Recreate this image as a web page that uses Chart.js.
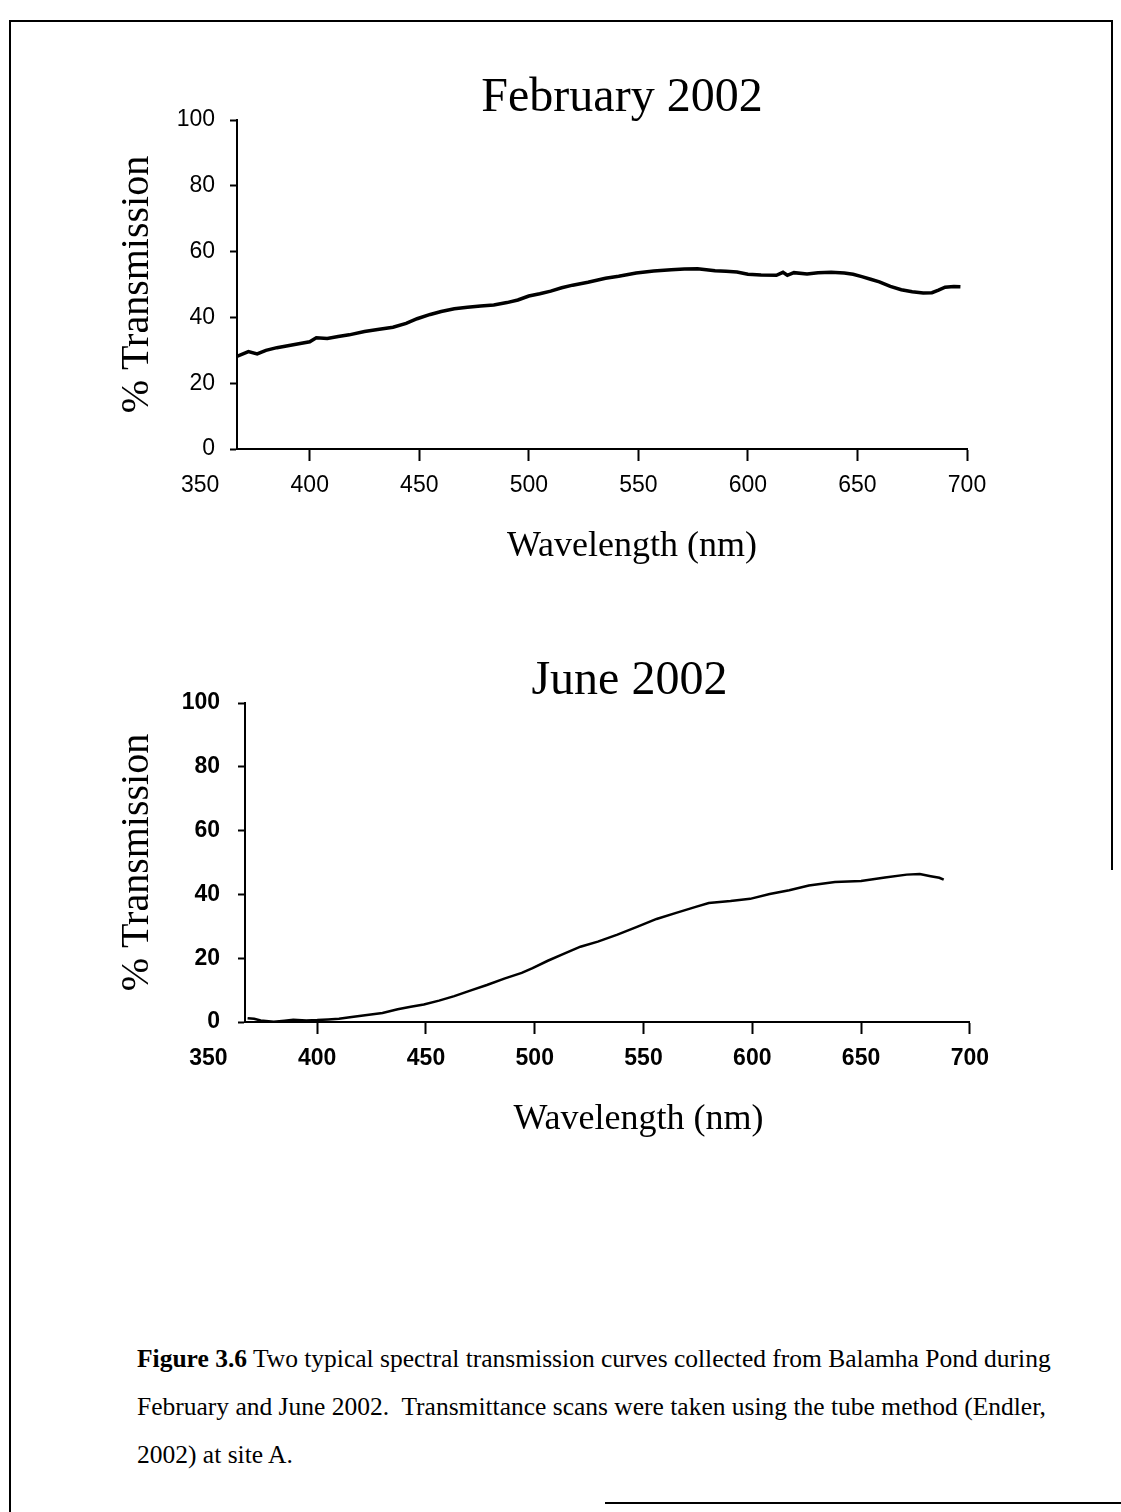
<!DOCTYPE html>
<html>
<head>
<meta charset="utf-8">
<script src="https://cdn.jsdelivr.net/npm/chart.js@4.4.1/dist/chart.umd.min.js"></script>
<style>
  html, body { margin: 0; padding: 0; background: #fff; }
  body { width: 1121px; height: 1512px; position: relative; overflow: hidden; }
  .rule { position: absolute; background: #000; }
  canvas { position: absolute; }
  #caption {
    position: absolute; left: 137px; top: 1335px; width: 980px;
    font-family: "Liberation Serif", "Times New Roman", serif; font-size: 25.5px;
    line-height: 48px; color: #000; white-space: pre;
  }
</style>
</head>
<body>
<!-- page frame as it shows on the scan -->
<div class="rule" style="left:9px; top:20px; width:2px; height:1492px;"></div>
<div class="rule" style="left:9px; top:20px; width:1104px; height:2px;"></div>
<div class="rule" style="left:1111px; top:20px; width:2px; height:850px;"></div>
<div class="rule" style="left:605px; top:1502px; width:516px; height:2px;"></div>

<canvas id="febChart" width="900" height="520" style="left:100px; top:60px;"></canvas>
<canvas id="junChart" width="900" height="520" style="left:100px; top:640px;"></canvas>

<div id="caption"><b>Figure 3.6</b> Two typical spectral transmission curves collected from Balamha Pond during
February and June 2002.  Transmittance scans were taken using the tube method (Endler,
2002) at site A.</div>

<script>
// ---- data ----
var febNm  = [367, 372, 376, 380, 385, 390, 395, 400, 403, 408, 413, 418, 425, 431, 438, 444, 449, 455, 460, 466,
              472, 478, 484, 490, 495, 500, 505, 510, 515, 520, 527, 535, 541, 549, 557, 565, 571, 577, 581, 585,
              590, 595, 600, 606, 613, 616, 618, 621, 627, 632, 638, 644, 648, 652, 656, 660, 665, 670, 675, 680,
              684, 687, 690, 694, 697];
var febPct = [28.2, 29.6, 28.9, 30.0, 30.8, 31.4, 32.0, 32.6, 33.8, 33.6, 34.2, 34.7, 35.7, 36.3, 37.0, 38.2, 39.6, 40.9, 41.8, 42.6,
              43.1, 43.5, 43.8, 44.5, 45.3, 46.5, 47.2, 48.0, 49.0, 49.8, 50.7, 51.9, 52.5, 53.5, 54.1, 54.5, 54.7, 54.8, 54.5, 54.2,
              54.0, 53.8, 53.1, 52.9, 52.8, 53.7, 52.8, 53.6, 53.2, 53.6, 53.7, 53.5, 53.1, 52.4, 51.6, 50.8, 49.4, 48.4, 47.8, 47.4,
              47.5, 48.3, 49.2, 49.4, 49.3];

var junNm  = [368, 371, 374, 380, 385, 389, 395, 400, 405, 410, 415, 422, 430, 437, 443, 449, 456, 463, 471, 478,
              486, 494, 499, 506, 513, 521, 529, 538, 547, 556, 565, 574, 580, 590, 599, 608, 617, 626, 638, 650,
              661, 671, 677, 682, 686, 688];
var junPct = [1.2, 1.0, 0.5, 0.1, 0.4, 0.7, 0.5, 0.6, 0.8, 1.0, 1.5, 2.1, 2.8, 4.0, 4.8, 5.5, 6.7, 8.1, 10.0, 11.6,
              13.6, 15.4, 16.9, 19.2, 21.3, 23.6, 25.2, 27.4, 29.8, 32.3, 34.2, 36.1, 37.3, 37.9, 38.6, 40.1, 41.3, 42.8, 43.9, 44.2,
              45.3, 46.2, 46.4, 45.7, 45.2, 44.6];

var xTicks = [350, 400, 450, 500, 550, 600, 650, 700];
var yTicks = [0, 20, 40, 60, 80, 100];
var xMin = 366.8, xMax = 700;

// titles + x axis title, placed relative to the plot area
var panelText = {
  id: "panelText",
  afterDraw: function (chart, args, o) {
    var a = chart.chartArea, ctx = chart.ctx;
    var cx = (a.left + a.right) / 2;
    ctx.save();
    ctx.fillStyle = "#000";
    ctx.textAlign = "center";
    ctx.textBaseline = "alphabetic";
    ctx.font = '48px "Liberation Serif"';
    ctx.fillText(o.title, cx + o.titleShift, a.top - o.titleRise);
    ctx.font = '36px "Liberation Serif"';
    ctx.fillText(o.xTitle, cx + o.xTitleShift, a.bottom + o.xTitleDrop);
    ctx.restore();
  }
};

function spectrum(id, nm, pct, s) {
  var pts = nm.map(function (x, i) { return { x: x, y: pct[i] }; });
  var tickFont = { family: "Liberation Sans", size: 23, weight: s.bold ? "bold" : "normal" };
  return new Chart(document.getElementById(id), {
    type: "line",
    data: {
      datasets: [{
        data: pts,
        borderColor: "#000",
        borderWidth: s.lineW,
        pointRadius: 0,
        tension: 0,
        fill: false
      }]
    },
    plugins: [panelText],
    options: {
      responsive: false,
      animation: false,
      layout: { padding: { left: 9, top: s.top, right: s.right, bottom: 0 } },
      plugins: {
        legend: { display: false },
        tooltip: { enabled: false },
        panelText: {
          title: s.title, titleShift: s.titleShift, titleRise: 9,
          xTitle: "Wavelength (nm)", xTitleShift: s.xTitleShift, xTitleDrop: 107
        }
      },
      scales: {
        x: {
          type: "linear",
          min: xMin,
          max: xMax,
          afterBuildTicks: function (ax) { ax.ticks = xTicks.map(function (v) { return { value: v }; }); },
          afterFit: function (ax) { ax.height = s.xAxisH; },
          border: { color: "#000", width: 2 },
          grid: {
            drawOnChartArea: false,
            tickLength: 12,
            tickWidth: 2,
            tickColor: function (c) { return c.tick && c.tick.value < xMin ? "rgba(0,0,0,0)" : "#000"; }
          },
          ticks: { autoSkip: false, maxRotation: 0, color: "#000", padding: 11, font: tickFont }
        },
        y: {
          min: 0,
          max: 100,
          afterBuildTicks: function (ax) { ax.ticks = yTicks.map(function (v) { return { value: v }; }); },
          afterFit: function (ax) { ax.width = s.yAxisW; },
          border: { color: "#000", width: 2 },
          grid: { drawOnChartArea: false, tickLength: 7, tickWidth: 2, tickColor: "#000" },
          ticks: { color: "#000", padding: s.yPad, font: tickFont },
          title: {
            display: true,
            text: "% Transmission",
            color: "#000",
            font: { family: "Liberation Serif", size: 40 },
            padding: { top: 4, bottom: 0 }
          }
        }
      }
    }
  });
}

spectrum("febChart", febNm, febPct, {
  title: "February 2002", titleShift: 20, xTitleShift: 30,
  top: 60, right: 33, yAxisW: 128, xAxisH: 131, yPad: 15, lineW: 3.5, bold: false
});
spectrum("junChart", junNm, junPct, {
  title: "June 2002", titleShift: 22, xTitleShift: 31,
  top: 63, right: 25, yAxisW: 136, xAxisH: 138, yPad: 18, lineW: 2.5, bold: true
});
</script>
</body>
</html>
